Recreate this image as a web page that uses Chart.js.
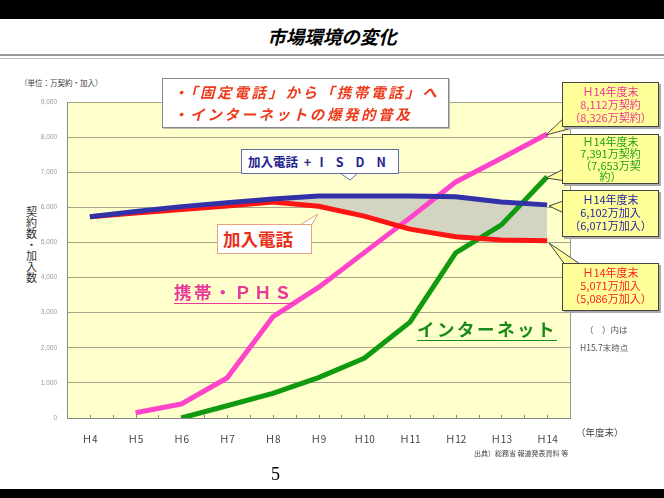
<!DOCTYPE html>
<html>
<head>
<meta charset="utf-8">
<script src="https://cdn.jsdelivr.net/npm/chart.js@4.4.1/dist/chart.umd.min.js"></script>
<style>
  body { margin: 0; width: 664px; height: 498px; position: relative; overflow: hidden; background: #fff;
         font-family: "Noto Sans CJK JP", "Noto Sans", sans-serif; }
  .abs { position: absolute; white-space: nowrap; }
  .band { position: absolute; left: 0; width: 664px; background: #000; }
  .ybox { position: absolute; left: 562px; width: 97px; background: #ffff99; border: 1px solid #444;
          box-shadow: 2px 2px 0 #aaa; text-align: center; font-size: 11px; line-height: 13px; padding-top: 2px; box-sizing: border-box; }
  .wbox { position: absolute; background: #fff; white-space: nowrap; box-sizing: border-box; }
  #wrap { position: absolute; left: 0; top: 0; width: 664px; height: 498px; }
</style>
</head>
<body>
<div class="band" style="top:0;height:19px"></div>
<div class="band" style="top:489px;height:9px"></div>
<div class="abs" style="left:0;width:664px;top:24px;text-align:center;font-size:18.5px;font-weight:bold;font-style:italic;line-height:24px">市場環境の変化</div>
<div class="abs" style="left:0;top:54px;width:664px;height:0;border-top:2px solid #999"></div>
<div class="abs" style="left:0;top:58px;width:664px;height:0;border-top:1px solid #bbb"></div>
<div class="abs" style="left:20px;top:77px;font-size:7.5px;color:#444">（単位：万契約・加入）</div>
<div class="abs" style="left:25px;top:206px;font-size:11px;line-height:11.5px;writing-mode:vertical-rl;color:#333">契約数・加入数</div>

<div id="wrap"><canvas id="c"></canvas></div>

<svg class="abs" style="left:0;top:0" width="664" height="498">
  <polygon points="566,116 580,126 546,135" fill="#ffff99" stroke="#444" stroke-width="1"/>
  <polygon points="566,168 580,183 546,178" fill="#ffff99" stroke="#444" stroke-width="1"/>
  <polygon points="566,200 566,214 549,206" fill="#ffff99" stroke="#444" stroke-width="1"/>
  <polygon points="566,266 580,264 549,243" fill="#ffff99" stroke="#444" stroke-width="1"/>
  <polygon points="340,173 358,173 350,180" fill="#fff" stroke="#6070a0" stroke-width="1"/>
  <polygon points="298,226 311,226 318,214" fill="#fff" stroke="#e8a080" stroke-width="1"/>
</svg>

<div class="wbox" style="left:162px;top:78px;width:287px;height:50px;border:1px solid #888;box-shadow:1px 1px 0 #bbb;
     color:#ee3b1c;font-weight:bold;font-style:italic;font-size:14.5px;line-height:22px;padding:2px 0 0 10px;letter-spacing:2.6px">
  ・「固定電話」から「携帯電話」へ<br>・インターネットの爆発的普及
</div>
<div class="wbox" style="left:241px;top:149px;width:158px;height:25px;border:1px solid #6070a0;
     color:#24248f;font-weight:bold;font-size:12.5px;line-height:23px;padding-left:6px">
  加入電話&nbsp;&nbsp;+&nbsp;&nbsp;&nbsp;<span style="letter-spacing:12px">ISDN</span>
</div>
<div class="wbox" style="left:217px;top:224px;width:95px;height:30px;border:1px solid #e8a080;
     color:#e8301c;font-weight:bold;font-size:17.5px;line-height:28px;padding-left:5px">加入電話</div>
<div class="abs" style="left:174px;top:280px;color:#e8389c;font-weight:bold;font-size:17.5px;line-height:23px;letter-spacing:2.5px;border-bottom:1.5px solid #e8389c">携帯・ＰＨＳ</div>
<div class="abs" style="left:417px;top:317px;color:#1a8a1a;font-weight:bold;font-size:17.5px;line-height:23px;letter-spacing:2.5px;border-bottom:1.5px solid #1a8a1a">インターネット</div>

<div class="ybox" style="top:82px;height:45px;color:#ee3399">Ｈ14年度末<br>8,112万契約<br>（8,326万契約）</div>
<div class="ybox" style="top:134px;height:50px;color:#22a022;line-height:11.8px;padding-top:1px">Ｈ14年度末<br>7,391万契約<br>（7,653万契<br>約）</div>
<div class="ybox" style="top:190px;height:47px;color:#2424a0">Ｈ14年度末<br>6,102万加入<br>（6,071万加入）</div>
<div class="ybox" style="top:263px;height:48px;color:#ff2020">Ｈ14年度末<br>5,071万加入<br>（5,086万加入）</div>

<div class="abs" style="left:585px;top:323px;font-size:8.5px;color:#555">（　）内は</div>
<div class="abs" style="left:580px;top:341px;font-size:8.5px;color:#555">H15.7末時点</div>
<div class="abs" style="left:576px;top:425px;font-size:9.5px;color:#444">（年度末）</div>
<div class="abs" style="left:474px;top:448px;font-size:7px;color:#444">出典）総務省 報道発表資料 等</div>
<div class="abs" style="left:271px;top:464px;font-size:18px;font-family:'Liberation Serif',serif;color:#000">5</div>

<script>
const years = ['Ｈ4', 'Ｈ5', 'Ｈ6', 'Ｈ7', 'Ｈ8', 'Ｈ9', 'Ｈ10', 'Ｈ11', 'Ｈ12', 'Ｈ13', 'Ｈ14'];
const fixedIsdn = [5730, 5880, 6020, 6130, 6240, 6320, 6320, 6320, 6300, 6150, 6070];
const fixedLine = [5730, 5840, 5940, 6040, 6150, 6030, 5750, 5380, 5160, 5070, 5050];
const mobilePhs = [null, 150, 400, 1140, 2880, 3720, 4710, 5700, 6720, 7400, 8090];
const internet  = [null, null, 0, 350, 700, 1150, 1700, 2730, 4700, 5500, 6870];
const yTicks = [0, 1000, 2000, 3000, 4000, 5000, 6000, 7000, 8000, 9000];

// yellow plot background, frame and the small ticks on the bottom axis
const plotBg = {
  id: 'plotBg',
  beforeDraw(chart) {
    const { ctx, chartArea: a } = chart;
    ctx.save();
    ctx.fillStyle = '#ffffcc';
    ctx.fillRect(a.left, a.top, a.width, a.height);
    ctx.strokeStyle = '#999';
    ctx.lineWidth = 1;
    ctx.beginPath();
    ctx.moveTo(a.right + 0.5, a.top);
    ctx.lineTo(a.right + 0.5, a.bottom);
    ctx.stroke();
    ctx.restore();
  },
  beforeDatasetsDraw(chart) {
    const { ctx, chartArea: a, scales: { x } } = chart;
    const step = x.getPixelForValue(1) - x.getPixelForValue(0);
    ctx.save();
    ctx.strokeStyle = '#888';
    ctx.lineWidth = 1;
    ctx.beginPath();
    years.forEach((_, i) => {
      const cx = x.getPixelForValue(i);
      [cx - step / 2, cx].forEach(px => {
        ctx.moveTo(Math.round(px) + 0.5, a.bottom);
        ctx.lineTo(Math.round(px) + 0.5, a.bottom - 3);
      });
    });
    ctx.stroke();
    ctx.restore();
  },
};

new Chart(document.getElementById('c').getContext('2d'), {
  type: 'line',
  data: {
    labels: years,
    datasets: [
      { label: '加入電話 + ISDN', data: fixedIsdn, borderColor: '#3232a8', fill: false },
      { label: '加入電話', data: fixedLine, borderColor: '#ff1414', fill: { target: 0 }, backgroundColor: '#d4d4c2' },
      { label: '携帯・PHS', data: mobilePhs, borderColor: '#ff44cc', fill: false },
      { label: 'インターネット', data: internet, borderColor: '#109a10', fill: false },
    ],
  },
  options: {
    responsive: true,
    maintainAspectRatio: false,
    animation: false,
    layout: { padding: { top: 102, right: 94, bottom: 50, left: 0 } },
    elements: {
      point: { radius: 0 },
      line: { borderWidth: 5, tension: 0, borderJoinStyle: 'round' },
    },
    plugins: {
      legend: { display: false },
      tooltip: { enabled: false },
      filler: { drawTime: 'beforeDatasetsDraw' },
    },
    scales: {
      x: {
        offset: true,
        grid: { display: false },
        border: { display: true, color: '#888' },
        ticks: { color: '#444', font: { size: 10, family: '"Noto Sans CJK JP"' }, padding: 7, maxRotation: 0, autoSkip: false },
        afterFit: s => { s.height = 30; },
      },
      y: {
        min: 0,
        max: 9000,
        afterBuildTicks: s => { s.ticks = yTicks.map(v => ({ value: v })); },
        grid: { color: '#a8a488', drawTicks: false },
        border: { display: true, color: '#888' },
        ticks: { color: '#999', font: { size: 6.5 }, padding: 10, callback: v => v.toLocaleString('en-US') },
        afterFit: s => { s.width = 67; },
      },
    },
  },
  plugins: [plotBg],
});
</script>
</body>
</html>
